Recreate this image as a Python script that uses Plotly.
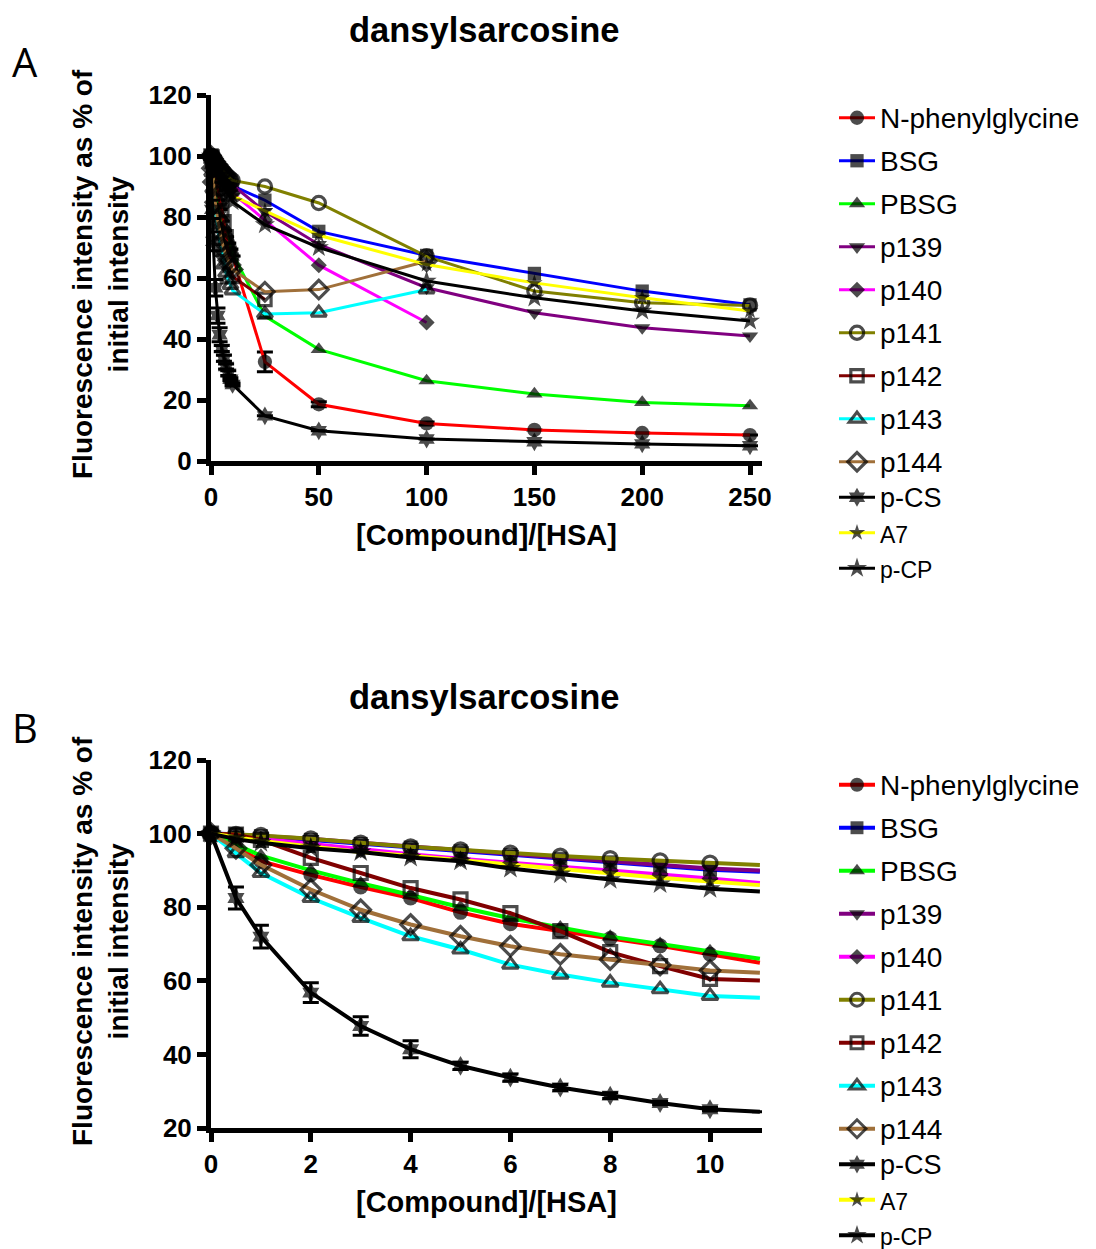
import plotly.graph_objects as go

W, H = 1096, 1249

# ---------------- data ----------------
series_names = ["N-phenylglycine", "BSG", "PBSG", "p139", "p140", "p141",
                "p142", "p143", "p144", "p-CS", "A7", "p-CP"]

# Panel B (low ratio titration)
x_low = [0, 0.5, 1, 2, 3, 4, 5, 6, 7, 8, 9, 10]
x_curve_end = 11
low_vals = {
    "N-phenylglycine": [100, 96.5, 92.5, 88.8, 85.5, 82.5, 78.6, 75.5, 73.5, 71.5, 69.5, 67.2],
    "BSG":             [100, 99.8, 99.3, 98.3, 97.2, 96.2, 95.2, 94.2, 93.2, 92.2, 91.2, 90.2],
    "PBSG":            [100, 97.0, 94.0, 90.0, 86.5, 83.3, 80.0, 77.0, 74.5, 72.0, 70.0, 68.0],
    "p139":            [100, 99.6, 99.2, 98.6, 97.5, 96.5, 95.5, 94.5, 93.5, 92.5, 91.5, 90.5],
    "p140":            [100, 99.3, 98.5, 97.0, 95.6, 94.4, 93.2, 92.0, 91.0, 90.0, 89.0, 87.8],
    "p141":            [100, 99.8, 99.5, 98.6, 97.4, 96.4, 95.6, 94.7, 93.9, 93.2, 92.6, 92.0],
    "p142":            [100, 99.7, 98.3, 93.4, 89.3, 85.2, 82.1, 78.4, 73.5, 67.8, 64.0, 60.5],
    "p143":            [100, 94.7, 89.3, 82.5, 77.1, 72.1, 68.5, 64.4, 61.7, 59.5, 57.7, 55.9],
    "p144":            [100, 96.0, 91.5, 84.8, 79.3, 75.3, 72.1, 69.4, 67.2, 65.8, 64.3, 62.8],
    "p-CS":            [100, 82.5, 72.0, 56.8, 47.7, 41.4, 36.9, 33.7, 31.0, 28.8, 26.8, 25.1],
    "A7":              [100, 99.0, 98.0, 96.5, 95.0, 94.0, 92.8, 91.5, 90.3, 89.2, 88.0, 87.0],
    "p-CP":            [100, 98.5, 97.5, 96.0, 95.0, 93.5, 92.5, 90.5, 89.0, 87.5, 86.3, 85.0],
}
curve_end_vals = {
    "N-phenylglycine": 64.9, "BSG": 89.6, "PBSG": 66.0, "p139": 90.0, "p140": 86.6,
    "p141": 91.5, "p142": 60.1, "p143": 55.4, "p144": 62.2, "p-CS": 24.4,
    "A7": 86.0, "p-CP": 84.3,
}
pcs_low_err = [0, 3.0, 3.1, 2.7, 2.5, 2.3, 1.0, 1.0, 0.8, 0.8, 0.5, 0.5]

# Panel A (high ratio titration, appended to the low-ratio points)
x_high = [25, 50, 100, 150, 200, 250]
high_vals = {
    "N-phenylglycine": [32.5, 18.6, 12.3, 10.2, 9.2, 8.5],
    "BSG":             [85.5, 75.3, 67.4, 61.5, 55.7, 51.2],
    "PBSG":            [47.5, 36.6, 26.3, 22.0, 19.2, 18.1],
    "p139":            [81.8, 71.0, 56.8, 48.6, 43.7, 41.0],
    "p140":            [79.0, 64.2, 45.4],
    "p141":            [90.0, 84.6, 67.1, 55.7, 51.9, 51.0],
    "p142":            [53.0],
    "p143":            [48.2, 48.6, 56.2],
    "p144":            [55.5, 56.2, 65.5],
    "p-CS":            [14.8, 9.9, 7.2, 6.3, 5.6, 5.0],
    "A7":              [82.0, 74.0, 64.4, 58.4, 53.5, 49.2],
    "p-CP":            [77.5, 70.0, 59.0, 53.5, 49.2, 45.9],
}
nphg_high_err = [3.2, 0.8, 0.5, 0, 0, 0]

line_colors = {
    "N-phenylglycine": "#FF0000", "BSG": "#0000FF", "PBSG": "#00FF00", "p139": "#800080",
    "p140": "#FF00FF", "p141": "#808000", "p142": "#800000", "p143": "#00FFFF",
    "p144": "#A0703A", "p-CS": "#000000", "A7": "#FFFF00", "p-CP": "#000000",
}
symbols = {
    "N-phenylglycine": ("circle", 15), "BSG": ("square", 14), "PBSG": ("triangle-up", 15),
    "p139": ("triangle-down", 15), "p140": ("diamond", 13), "p141": ("circle-open", 14),
    "p142": ("square-open", 13), "p143": ("triangle-up-open", 14), "p144": ("diamond-open", 15),
    "p-CS": ("hexagram", 15), "A7": ("star", 13), "p-CP": ("star", 16),
}
legend_text_size = {n: 28 for n in series_names}
legend_text_size.update({"p-CS": 27, "A7": 23, "p-CP": 23})

FONT = "Liberation Sans, Arial, sans-serif"

# ---------------- layout helpers (pixel -> paper) ----------------
def px_x(p):
    return p / W

def px_y(p):
    return 1 - p / H

fig = go.Figure()

legend_groups = {n: ("g" + n if i < 8 else "tail") for i, n in enumerate(series_names)}

def add_series(name, xs, ys, xaxis, yaxis, legend, err=None, line_w=3, msize_scale=1.0,
               hide_last=False):
    sym, size = symbols[name]
    size = size * msize_scale
    is_open = sym.endswith("-open")
    n = len(xs)
    sizes = [size] * n
    lws = [3.2 if is_open else 0] * n
    if hide_last:
        sizes[-1] = 0
        lws[-1] = 0
    lg = legend_groups[name]
    label = '<span style="font-size:%dpx">%s</span>' % (legend_text_size[name], name)
    tr = dict(
        x=xs, y=ys, mode="lines+markers", name=label,
        xaxis=xaxis, yaxis=yaxis, legend=legend, legendgroup=lg + legend,
        line=dict(color=line_colors[name], width=line_w),
        marker=dict(symbol=sym, size=sizes, color="black",
                    line=dict(color="black", width=lws)),
        cliponaxis=False,
    )
    if err is not None:
        tr["error_y"] = dict(type="data", array=err, visible=True, color="black",
                             thickness=3, width=8)
    fig.add_trace(go.Scatter(**tr))

# Panel A
for name in series_names:
    xs = x_low + x_high[:len(high_vals[name])]
    ys = low_vals[name] + high_vals[name]
    err = None
    if name == "p-CS":
        err = pcs_low_err + [0] * len(high_vals[name])
    if name == "N-phenylglycine":
        err = [0] * len(x_low) + nphg_high_err
    add_series(name, xs, ys, "x", "y", "legend", err=err, line_w=3, msize_scale=0.95)

# Panel B
for name in series_names:
    xs = x_low + [x_curve_end]
    ys = low_vals[name] + [curve_end_vals[name]]
    err = None
    if name == "p-CS":
        err = pcs_low_err + [0]
    add_series(name, xs, ys, "x2", "y2", "legend2", err=err, line_w=4, hide_last=True)

axis_common = dict(
    showline=True, linecolor="black", linewidth=5, ticks="outside", ticklen=9,
    tickwidth=5, tickcolor="black", showgrid=False, zeroline=False,
    tickfont=dict(family=FONT, size=26, color="black", weight="bold"),
)

xA_left, xA_right = 211, 762
legend_common = dict(xanchor="left", yanchor="top",
                     font=dict(family=FONT, size=25, color="black"),
                     tracegroupgap=7.5, itemwidth=36, bgcolor="rgba(0,0,0,0)",
                     traceorder="grouped")
fig.update_layout(
    width=W, height=H, margin=dict(l=0, r=0, t=0, b=0, autoexpand=False),
    paper_bgcolor="white", plot_bgcolor="white",
    showlegend=True,
    xaxis=dict(domain=[px_x(xA_left), px_x(xA_right)], anchor="y",
               range=[0, 250 * (xA_right - xA_left) / (750 - xA_left)],
               tickvals=[0, 50, 100, 150, 200, 250], **axis_common),
    yaxis=dict(domain=[px_y(461), px_y(95)], anchor="x", range=[0, 120],
               tickvals=[0, 20, 40, 60, 80, 100, 120], **axis_common),
    xaxis2=dict(domain=[px_x(xA_left), px_x(xA_right)], anchor="y2",
                range=[0, 10 * (xA_right - xA_left) / (710 - xA_left)],
                tickvals=[0, 2, 4, 6, 8, 10], **axis_common),
    yaxis2=dict(domain=[px_y(1128), px_y(760)], anchor="x2", range=[20, 120],
                tickvals=[20, 40, 60, 80, 100, 120], **axis_common),
    legend=dict(x=px_x(834), y=px_y(95), **legend_common),
    legend2=dict(x=px_x(834), y=px_y(762), **legend_common),
)

ytitle = "Fluorescence intensity as % of<br>initial intensity"
annots = [
    dict(text="A", x=px_x(25), y=px_y(62), font=dict(family="Open Sans", size=40)),
    dict(text="B", x=px_x(25), y=px_y(727), font=dict(family="Open Sans", size=40)),
    dict(text="<b>dansylsarcosine</b>", x=px_x(484), y=px_y(30),
         font=dict(family=FONT, size=34.5)),
    dict(text="<b>dansylsarcosine</b>", x=px_x(484), y=px_y(697),
         font=dict(family=FONT, size=34.5)),
    dict(text="<b>[Compound]/[HSA]</b>", x=px_x(486), y=px_y(535),
         font=dict(family=FONT, size=29)),
    dict(text="<b>[Compound]/[HSA]</b>", x=px_x(486), y=px_y(1202),
         font=dict(family=FONT, size=29)),
    dict(text="<b>" + ytitle + "</b>", x=px_x(100), y=px_y(274), textangle=-90,
         font=dict(family=FONT, size=28)),
    dict(text="<b>" + ytitle + "</b>", x=px_x(100), y=px_y(941), textangle=-90,
         font=dict(family=FONT, size=28)),
]
for a in annots:
    a.update(xref="paper", yref="paper", showarrow=False, xanchor="center",
             yanchor="middle")
    a["font"]["color"] = "black"
fig.update_layout(annotations=annots)

fig.write_html("out.html", config={"displayModeBar": False},
               post_script="document.body.style.margin='0';document.body.style.overflow='hidden';")
